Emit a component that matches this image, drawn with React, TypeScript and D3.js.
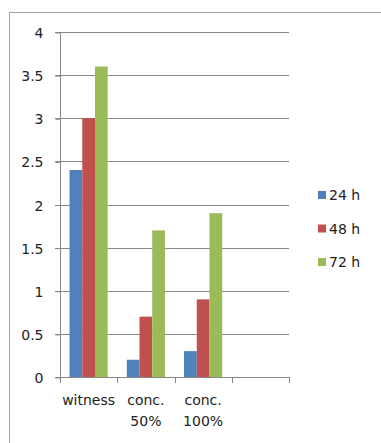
import React, { useEffect, useRef } from 'react';
import * as d3 from 'd3';

const categories = ['witness', 'conc. 50%', 'conc. 100%', ''];
const seriesNames = ['24 h', '48 h', '72 h'];
const values24 = [2.4, 0.2, 0.3];
const values48 = [3.0, 0.7, 0.9];
const values72 = [3.6, 1.7, 1.9];
const yTicks = [0, 0.5, 1, 1.5, 2, 2.5, 3, 3.5, 4];
const colors = ['#4f81bd', '#c0504d', '#9bbb59'];

const FONT = '"DejaVu Sans", sans-serif';

const App = () => {
    const ref = useRef<SVGSVGElement>(null);

    useEffect(() => {
        const svg = d3.select(ref.current);
        svg.selectAll('*').remove();

        // outer border of the chart area (runs off right/bottom)
        svg.append('rect')
            .attr('x', 9.5).attr('y', 12.5)
            .attr('width', 380).attr('height', 440)
            .attr('fill', 'white')
            .attr('stroke', '#a5a5a5');

        const x = d3.scaleBand().domain(categories.map((c, i) => String(i))).range([60, 289]).paddingInner(0).paddingOuter(0);
        const y = d3.scaleLinear().domain([0, 4]).range([377, 32]);

        // gridlines
        svg.append('g').selectAll('line')
            .data(yTicks.filter(t => t > 0))
            .enter().append('line')
            .attr('x1', 55).attr('x2', 289)
            .attr('y1', d => Math.round(y(d)) + 0.5)
            .attr('y2', d => Math.round(y(d)) + 0.5)
            .attr('stroke', '#878787');

        // y axis
        const yAxis = svg.append('g').attr('transform', 'translate(60.5,0.5)')
            .call(d3.axisLeft(y).tickValues(yTicks).tickSize(5).tickFormat(d => String(d)));
        yAxis.select('.domain').attr('stroke', '#878787').attr('d', `M0,${y(4)}V${y(0)}`);
        yAxis.selectAll('.tick line').attr('stroke', '#878787');
        yAxis.selectAll('.tick text')
            .attr('x', -17).attr('dy', '0.36em')
            .attr('fill', '#222')
            .style('font-family', FONT).style('font-size', '14px');

        // bars
        const groupW = x.bandwidth() / 1.5;
        const barW = groupW / 3;
        const off = (x.bandwidth() - groupW) / 2;
        const allSeries = [values24, values48, values72];
        allSeries.forEach((vals, s) => {
            svg.append('g').selectAll('rect')
                .data(vals)
                .enter().append('rect')
                .attr('x', (d, i) => (x(String(i)) as number) + off + s * barW)
                .attr('width', barW)
                .attr('y', d => y(d))
                .attr('height', d => y(0) - y(d))
                .attr('fill', colors[s]);
        });

        // x axis
        const xAxisG = svg.append('g');
        xAxisG.append('line')
            .attr('x1', 55).attr('x2', 289)
            .attr('y1', Math.round(y(0)) + 0.5).attr('y2', Math.round(y(0)) + 0.5)
            .attr('stroke', '#878787');
        const edges = categories.map((c, i) => x(String(i)) as number).concat([289]);
        xAxisG.selectAll('line.tk')
            .data(edges)
            .enter().append('line')
            .attr('class', 'tk')
            .attr('x1', d => Math.round(d) + 0.5).attr('x2', d => Math.round(d) + 0.5)
            .attr('y1', 377).attr('y2', 383)
            .attr('stroke', '#878787');

        // category labels (wrapped like excel)
        categories.forEach((c, i) => {
            if (!c) return;
            const cx = (x(String(i)) as number) + x.bandwidth() / 2;
            const parts = c === 'witness' ? ['witness'] : c.split(' ');
            const t = svg.append('text')
                .attr('text-anchor', 'middle')
                .attr('fill', '#222')
                .style('font-family', FONT).style('font-size', '14px');
            parts.forEach((p, k) => {
                t.append('tspan').attr('x', cx).attr('y', 405 + k * 21).text(p);
            });
        });

        // legend
        const leg = svg.append('g');
        seriesNames.forEach((name, i) => {
            const cy = 195 + i * 33.5;
            leg.append('rect')
                .attr('x', 318).attr('y', cy - 4)
                .attr('width', 8).attr('height', 8)
                .attr('fill', colors[i]);
            leg.append('text')
                .attr('x', 329).attr('y', cy + 5)
                .attr('fill', '#222')
                .style('font-family', FONT).style('font-size', '14px')
                .text(name);
        });
    }, []);

    return (
        <div style={{ position: 'absolute', left: 0, top: 0 }}>
            <svg ref={ref} width={381} height={443} style={{ display: 'block', background: 'white' }} />
        </div>
    );
};

export default App;
